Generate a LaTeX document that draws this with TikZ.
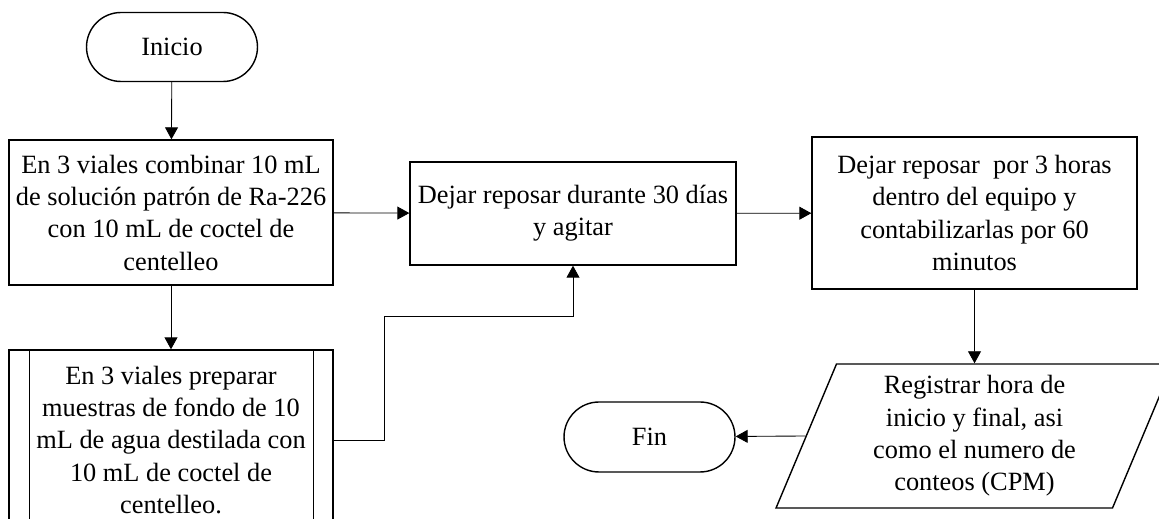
\documentclass[tikz,border=0pt]{standalone}
\usepackage{fontspec}
\setmainfont{Liberation Serif}
\usetikzlibrary{arrows.meta,shapes.geometric}

\begin{document}
\begin{tikzpicture}[x=0.02cm, y=-0.02cm, >={Triangle[length=0.24cm,width=0.26cm]},
    every node/.style={font=\fontsize{15}{18.4}\selectfont, align=center, inner sep=0pt},
    proceso/.style={draw, line width=0.8pt, minimum width=6.48cm},
    terminal/.style={draw, line width=0.8pt, rounded corners=0.69cm, minimum width=3.42cm, minimum height=1.38cm},
    datos/.style={draw, line width=0.8pt, trapezium, trapezium left angle=63.43, trapezium right angle=116.57,
      trapezium stretches body, minimum width=7.94cm, minimum height=2.88cm},
    linea/.style={line width=0.5pt, ->}]
    \clip (0, 0) rectangle (1159, 519);
    \node[terminal] (inicio) at (172, 47) {Inicio};
    \node[proceso, minimum height=2.9cm] (comb) at (171, 212.5)
      {En 3 viales combinar 10 mL\\de solución patrón de Ra-226\\con 10 mL de coctel de\\centelleo};
    \node[proceso, minimum height=3.6cm] (fondo) at (171, 440)
      {En 3 viales preparar\\muestras de fondo de 10\\mL de agua destilada con\\10 mL de coctel de\\centelleo.};
    \draw[line width=0.8pt] ([xshift=0.42cm]fondo.north west) -- ([xshift=0.42cm]fondo.south west);
    \draw[line width=0.8pt] ([xshift=-0.4cm]fondo.north east) -- ([xshift=-0.4cm]fondo.south east);
    \node[proceso, minimum width=6.52cm, minimum height=2.06cm] (reposo) at (573, 213.5)
      {Dejar reposar durante 30 días\\y agitar};
    \node[proceso, minimum width=6.5cm, minimum height=3.04cm] (equipo) at (974.5, 213)
      {Dejar reposar\ \ por 3 horas\\dentro del equipo y\\contabilizarlas por 60\\minutos};
    \node[datos] (registro) at (974.5, 436)
      {Registrar hora de\\inicio y final, asi\\como el numero de\\conteos (CPM)};
    \node[terminal, minimum height=1.4cm, rounded corners=0.7cm] (fin) at (649.5, 437) {Fin};
    \coordinate (codo) at (384, 316);
    \draw[linea] (inicio) -- (comb);
    \draw[linea] (comb) -- (fondo);
    \draw[linea] (comb) -- (reposo);
    \draw[linea] (fondo.east) -| (codo) -| (reposo.south);
    \draw[linea] (reposo) -- (equipo);
    \draw[linea] (equipo) -- (registro);
    \draw[linea] (registro.left side) -- (fin);
\end{tikzpicture}
\end{document}
